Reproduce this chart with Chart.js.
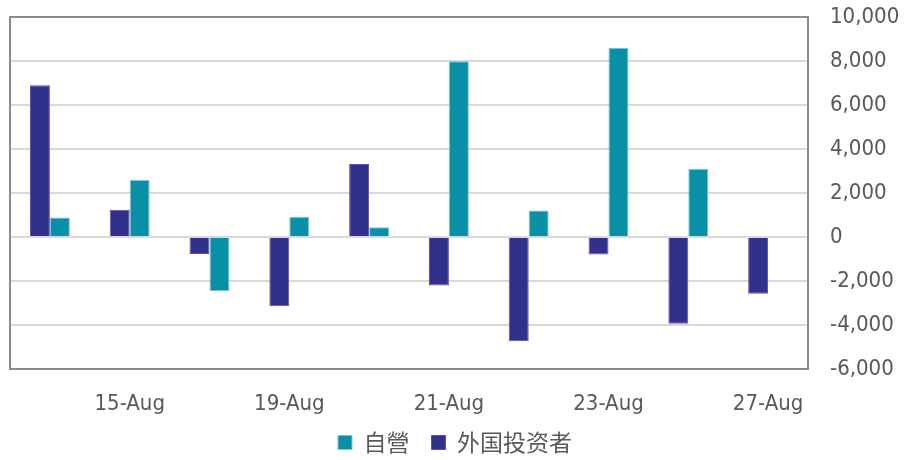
<!DOCTYPE html>
<html>
<head>
<meta charset="utf-8">
<script src="https://cdn.jsdelivr.net/npm/chart.js@4/dist/chart.umd.min.js"></script>
<style>
  html, body { margin: 0; padding: 0; background: #fff; }
  #wrap { width: 904px; height: 460px; }
</style>
</head>
<body>
<div id="wrap"><canvas id="chart"></canvas></div>
<script>
const categories = ['14-Aug', '15-Aug', '16-Aug', '19-Aug', '20-Aug', '21-Aug', '22-Aug', '23-Aug', '26-Aug', '27-Aug'];
const foreignValues = [6900, 1240, -770, -3150, 3320, -2210, -4740, -800, -3940, -2580];
const dealerValues = [890, 2590, -2450, 920, 440, 7990, 1200, 8600, 3090, 0];
const yTicks = [10000, 8000, 6000, 4000, 2000, 0, -2000, -4000, -6000];

const fontMain = '"DejaVu Sans Condensed", "DejaVu Sans", sans-serif';
const fontCjk = '"Noto Sans CJK SC", "DejaVu Sans", sans-serif';

// outline of the plot area (left/top edges too)
const frame = {
    id: 'frame',
    afterDraw(chart) {
        const { ctx, chartArea: a } = chart;
        ctx.save();
        ctx.strokeStyle = '#8c8c8c';
        ctx.lineWidth = 2;
        ctx.strokeRect(a.left, a.top, a.right - a.left, a.bottom - a.top);
        ctx.restore();
    }
};

// legend sits a little higher than its box
const legendShift = {
    id: 'legendShift',
    afterLayout(chart) {
        chart.legend.top -= 9;
    }
};

const chart = new Chart(document.getElementById('chart'), {
    type: 'bar',
    data: {
        labels: categories,
        datasets: [{
            label: '外国投资者',
            data: foreignValues,
            backgroundColor: '#30318b',
            borderColor: '#6a4aa6',
            borderWidth: 1,
            categoryPercentage: 0.5,
            barPercentage: 1
        }, {
            label: '自營',
            data: dealerValues,
            backgroundColor: '#0a90a6',
            borderColor: '#7cc4d0',
            borderWidth: 1,
            categoryPercentage: 0.5,
            barPercentage: 1
        }]
    },
    options: {
        responsive: true,
        maintainAspectRatio: false,
        animation: false,
        layout: { padding: { left: 10, top: 17, right: 4, bottom: 0 } },
        scales: {
            x: {
                grid: { display: false, drawTicks: false },
                border: { display: false },
                afterFit: s => { s.paddingLeft = 0; s.paddingRight = 0; s.height = 49; },
                ticks: {
                    autoSkip: false,
                    maxRotation: 0,
                    padding: 22,
                    color: '#595959',
                    font: { family: fontMain, size: 22 },
                    callback: (v, i) => i % 2 === 1 ? categories[i] : ''
                }
            },
            y: {
                position: 'right',
                min: -6000,
                max: 10000,
                afterBuildTicks: axis => { axis.ticks = yTicks.map(v => ({ value: v })); },
                afterFit: s => { s.paddingTop = 0; s.paddingBottom = 0; s.width = 92; },
                grid: { color: '#d9d9d9', lineWidth: 2, drawTicks: false },
                border: { display: false },
                ticks: {
                    padding: 22,
                    color: '#595959',
                    font: { family: fontMain, size: 22 },
                    callback: v => v.toLocaleString('en-US')
                }
            }
        },
        plugins: {
            legend: {
                position: 'bottom',
                reverse: true,
                labels: {
                    boxWidth: 14,
                    boxHeight: 14,
                    padding: 22,
                    color: '#595959',
                    font: { family: fontCjk, size: 23 }
                }
            },
            tooltip: { enabled: false }
        }
    },
    plugins: [frame, legendShift]
});

// keep the legend strip short so the plot gets the height
const legendFit = chart.legend.fit;
chart.legend.fit = function () {
    legendFit.call(this);
    this.height = 42;
};
chart.update();
</script>
</body>
</html>
